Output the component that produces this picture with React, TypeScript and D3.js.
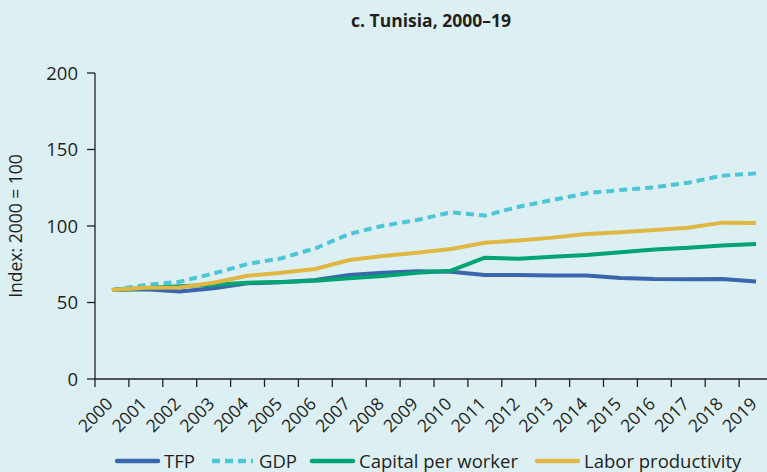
import * as d3 from "d3";

const WIDTH = 767;
const HEIGHT = 472;
const MARGIN = { top: 73, left: 95, bottom: 93 };
const STEP = 33.9;

const years = [
  "2000", "2001", "2002", "2003", "2004", "2005", "2006", "2007", "2008", "2009",
  "2010", "2011", "2012", "2013", "2014", "2015", "2016", "2017", "2018", "2019",
];

const tfp = [58.2, 58.6, 57.2, 59.3, 62.5, 63.2, 64.7, 68, 69.5, 70.5, 70.1, 68, 68, 67.6, 67.6, 66, 65.3, 65.2, 65.3, 63.8];
const gdp = [58.2, 61.4, 63.6, 69, 75.2, 78.9, 85.4, 94.8, 100.2, 103.9, 108.9, 106.8, 112.6, 117, 121.4, 123.5, 125.3, 128.3, 132.9, 134.4];
const capital = [58.2, 59.5, 60.6, 61.6, 62.9, 63.4, 64.2, 65.8, 67.3, 69.5, 70.8, 79.3, 78.6, 79.9, 81, 82.8, 84.7, 85.8, 87.3, 88.2];
const labor = [58.2, 59.7, 59.8, 62.9, 67.5, 69.5, 71.9, 77.8, 80.4, 82.5, 85, 89.1, 90.6, 92.4, 94.8, 95.9, 97.4, 98.9, 102.2, 101.9];

const yTicks = [0, 50, 100, 150, 200];

const series = [
  { name: "TFP", values: tfp, color: "#3a67ab", dash: "", legendX: 117 },
  { name: "GDP", values: gdp, color: "#4ec5d6", dash: "8 5", legendX: 212 },
  { name: "Capital per worker", values: capital, color: "#00a473", dash: "", legendX: 312 },
  { name: "Labor productivity", values: labor, color: "#e1b744", dash: "", legendX: 537 },
];

const FONT = "'Open Sans', 'DejaVu Sans', sans-serif";
const INK = "#231f20";

export default function App() {
  const x = d3
    .scaleBand<string>()
    .domain(years)
    .range([MARGIN.left, MARGIN.left + STEP * years.length])
    .padding(0);

  const y = d3
    .scaleLinear()
    .domain([0, 200])
    .range([HEIGHT - MARGIN.bottom, MARGIN.top]);

  const xc = (yr: string) => (x(yr) ?? 0) + x.bandwidth() / 2;

  const line = d3
    .line<number>()
    .x((_, i) => xc(years[i]))
    .y((d) => y(d));

  const y0 = y(0);

  return (
    <div style={{ position: "fixed", left: 0, top: 0 }}>
      <svg width={WIDTH} height={HEIGHT} style={{ display: "block", fontFamily: FONT }}>
        <rect width={WIDTH} height={HEIGHT} fill="#dcf0f4" />
        <text x={431} y={27} textAnchor="middle" fontSize={17.5} fontWeight={700} fill={INK}>
          c. Tunisia, 2000–19
        </text>

        {/* y axis */}
        <line x1={MARGIN.left} x2={MARGIN.left} y1={y(200)} y2={y0} stroke={INK} strokeWidth={1.3} />
        {yTicks.map((t) => (
          <g key={t}>
            <line x1={MARGIN.left - 8} x2={MARGIN.left} y1={y(t)} y2={y(t)} stroke={INK} strokeWidth={1.3} />
            <text x={MARGIN.left - 17} y={y(t)} dy="0.36em" textAnchor="end" fontSize={18.5} fill={INK}>
              {t}
            </text>
          </g>
        ))}
        <text
          transform={`translate(22,${(y(0) + y(200)) / 2}) rotate(-90)`}
          textAnchor="middle"
          fontSize={17.5}
          fill={INK}
        >
          Index: 2000 = 100
        </text>

        {/* x axis */}
        <line x1={MARGIN.left} x2={WIDTH} y1={y0} y2={y0} stroke={INK} strokeWidth={1.3} />
        {years.map((yr) => (
          <g key={yr}>
            <line x1={x(yr)} x2={x(yr)} y1={y0} y2={y0 + 8} stroke={INK} strokeWidth={1.3} />
            <text
              transform={`translate(${xc(yr) + 2},${y0 + 26}) rotate(-45)`}
              textAnchor="end"
              fontSize={17.5}
              fill={INK}
            >
              {yr}
            </text>
          </g>
        ))}

        {/* lines */}
        {series.map((s) => (
          <path
            key={s.name}
            d={line(s.values) ?? ""}
            fill="none"
            stroke={s.color}
            strokeWidth={4}
            strokeDasharray={s.dash || undefined}
            strokeLinejoin="round"
          />
        ))}

        {/* legend */}
        {series.map((s) => (
          <g key={s.name} transform={`translate(${s.legendX},461)`}>
            <line
              x1={0}
              x2={41}
              y1={0}
              y2={0}
              stroke={s.color}
              strokeWidth={4.5}
              strokeDasharray={s.dash || undefined}
              strokeLinecap={s.dash ? "butt" : "round"}
            />
            <text x={47} y={0} dy="0.36em" fontSize={18.5} fill={INK}>
              {s.name}
            </text>
          </g>
        ))}
      </svg>
    </div>
  );
}
